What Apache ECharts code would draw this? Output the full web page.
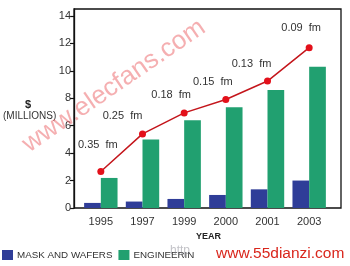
<!DOCTYPE html>
<html>
<head>
<meta charset="utf-8">
<script src="https://cdn.jsdelivr.net/npm/echarts@6/dist/echarts.min.js"></script>
<style>
html,body{margin:0;padding:0;background:#fff;}
#c{width:350px;height:266px;}
</style>
</head>
<body>
<div id="c"></div>
<script>
var years = ['1995', '1997', '1999', '2000', '2001', '2003'];
var maskWafers = [0.37, 0.47, 0.66, 0.95, 1.36, 2.0];
var engineering = [2.19, 5.0, 6.4, 7.35, 8.59, 10.3];
var totalCost = [2.66, 5.4, 6.93, 7.91, 9.25, 11.68];
var nodeLabels = ['0.35  fm', '0.25  fm', '0.18  fm', '0.15  fm', '0.13  fm', '0.09  fm'];
var yTicks = [0, 2, 4, 6, 8, 10, 12, 14];

var labelOffsets = [[-3, -13], [-20, -4], [-13, -4], [-13, -3], [-16, -3], [-8, -6]];
var FONT = 'Liberation Sans, Arial, sans-serif';

var chart = echarts.init(document.getElementById('c'), null, {renderer: 'canvas'});
chart.setOption({
  animation: false,
  backgroundColor: '#fff',
  textStyle: {fontFamily: FONT},
  grid: [
    {left: 80, width: 250, top: 9, bottom: 58, containLabel: false},
    {left: 74, right: 9, top: 9, bottom: 58, show: true, borderColor: '#111', borderWidth: 1.3, backgroundColor: 'transparent', z: 0}
  ],
  xAxis: [
    {type: 'category', gridIndex: 0, data: years, boundaryGap: true,
     axisLine: {show: false}, axisTick: {show: false},
     axisLabel: {color: '#333', fontSize: 11, margin: 8, fontFamily: FONT}},
    {type: 'value', gridIndex: 1, show: false}
  ],
  yAxis: [
    {type: 'value', gridIndex: 0, min: 0, max: 14.5, offset: 6,
     axisLine: {show: true, lineStyle: {color: '#111', width: 1.3}},
     axisTick: {show: true, length: 4, inside: false, customValues: yTicks, lineStyle: {color: '#111', width: 1.2}},
     axisLabel: {color: '#333', fontSize: 11, margin: 3, customValues: yTicks, fontFamily: FONT},
     splitLine: {show: false}},
    {type: 'value', gridIndex: 1, show: false}
  ],
  legend: {
    left: 2, top: 250, padding: 0, itemWidth: 11, itemHeight: 10, itemGap: 6,
    icon: 'rect',
    textStyle: {color: '#333', fontSize: 9.8, fontFamily: FONT, padding: [0, 0, 0, -1]},
    data: ['MASK AND WAFERS', 'ENGINEERIN']
  },
  series: [
    {name: 'MASK AND WAFERS', type: 'bar', xAxisIndex: 0, yAxisIndex: 0, data: maskWafers,
     barWidth: 16.7, barGap: '0%', itemStyle: {color: '#2f3d98'}},
    {name: 'ENGINEERIN', type: 'bar', xAxisIndex: 0, yAxisIndex: 0, data: engineering,
     barWidth: 16.7, barGap: '0%', itemStyle: {color: '#21a070'}},
    {name: 'cost', type: 'line', xAxisIndex: 0, yAxisIndex: 0,
     data: totalCost.map(function (v, i) {
       return {value: v, label: {offset: labelOffsets[i], formatter: nodeLabels[i]}};
     }),
     symbol: 'circle', symbolSize: 7, z: 5,
     lineStyle: {color: '#c4161c', width: 1.5},
     itemStyle: {color: '#e3101a'},
     label: {show: true, position: 'top', color: '#333', fontSize: 11, fontFamily: FONT}}
  ],
  graphic: [
    {type: 'text', left: 25, top: 99, style: {text: '$', font: 'bold 11px ' + FONT, fill: '#222'}},
    {type: 'text', left: 3, top: 111, style: {text: '(MILLIONS)', font: '10px ' + FONT, fill: '#333'}},
    {type: 'text', left: 196, top: 232, style: {text: 'YEAR', font: 'bold 9px ' + FONT, fill: '#222'}},
    {type: 'text', x: 114, y: 86, rotation: 0.6, z: 10,
     style: {text: 'www.elecfans.com', font: '26px ' + FONT, fill: 'rgba(236,95,100,0.5)', align: 'center', verticalAlign: 'middle'}},
    {type: 'text', left: 170, top: 245, z: 10,
     style: {text: 'http', font: '12px ' + FONT, fill: 'rgba(120,120,130,0.45)'}},
    {type: 'text', left: 216, top: 246, z: 10,
     style: {text: 'www.55dianzi.com', font: '15.5px ' + FONT, fill: '#d9261c'}}
  ]
});
</script>
</body>
</html>
